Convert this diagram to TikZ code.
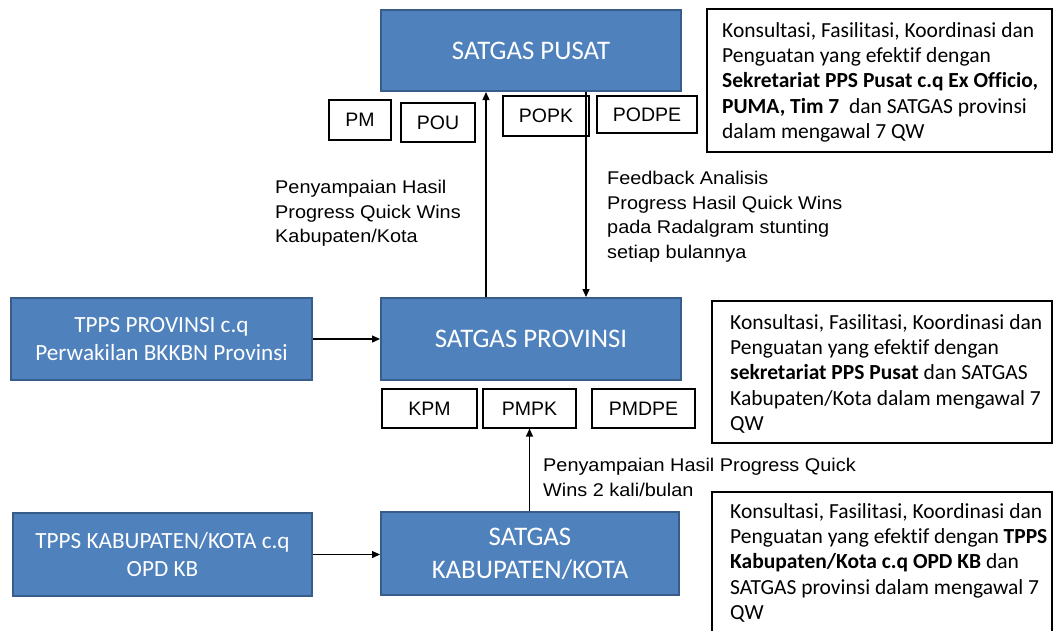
\documentclass[tikz,border=0pt]{standalone}
\usepackage{fontspec}
\setmainfont{Carlito}[Ligatures=NoCommon]
\newfontfamily\labfont[FakeStretch=1.08]{Liberation Sans}
\newfontfamily\boxfont{Liberation Sans}
\usetikzlibrary{arrows.meta}
\definecolor{boxblue}{HTML}{4F81BD}
\definecolor{boxedge}{HTML}{385D8A}
\begin{document}
\begin{tikzpicture}[x=1pt,y=-1pt,
 bluebox/.style={draw=boxedge, line width=2pt, fill=boxblue, text=white, align=center, inner sep=0},
 bigfont/.style={font=\fontsize{26.8}{33}\selectfont},
 midfont/.style={font=\fontsize{23.2}{28}\selectfont},
 smallbox/.style={draw=black, line width=1.2pt, fill=white, font=\boxfont\fontsize{19.5}{22}\selectfont, inner sep=0},
 notebox/.style={draw=black, line width=1.5pt, inner sep=0},
 notetext/.style={anchor=north west, inner sep=0, align=left, font=\fontsize{21.5}{25.3}\selectfont},
 lab/.style={anchor=north west, inner sep=0, align=left, font=\labfont\fontsize{18.4}{24.7}\selectfont},
 conn/.style={line width=1.3pt, -{Triangle[length=8pt,width=7pt]}}
]
\useasboundingbox (0,0) rectangle (1054,630);
\clip (0,0) rectangle (1054,630);

% blue boxes
\node[bluebox, bigfont, minimum width=300pt, minimum height=81pt] (pusat) at (531,50.5) {SATGAS PUSAT};
\node[bluebox, bigfont, minimum width=300pt, minimum height=82pt] (prov) at (531,339) {SATGAS PROVINSI};
\node[bluebox, midfont, minimum width=301pt, minimum height=82pt] (tppsprov) at (161.5,339) {TPPS PROVINSI c.q\\Perwakilan BKKBN Provinsi};
\node[bluebox, midfont, minimum width=299pt, minimum height=83pt] (tppskab) at (162.5,554.5) {TPPS KABUPATEN/KOTA c.q\\OPD KB};
\node[bluebox, bigfont, minimum width=298pt, minimum height=83pt] (kab) at (530,553.5) {SATGAS\\KABUPATEN/KOTA};

% small boxes
\node[smallbox, minimum width=62pt, minimum height=40pt] (pm) at (360,120) {PM};
\node[smallbox, minimum width=74pt, minimum height=39pt] (pou) at (438,122.5) {POU};
\node[smallbox, minimum width=86pt, minimum height=40pt] (popk) at (546,116) {POPK};
\node[smallbox, minimum width=100pt, minimum height=37pt] (podpe) at (647,114.5) {PODPE};
\node[smallbox, minimum width=95pt, minimum height=39pt] (kpm) at (429.5,408.5) {KPM};
\node[smallbox, minimum width=93pt, minimum height=39pt] (pmpk) at (529.5,408.5) {PMPK};
\node[smallbox, minimum width=103pt, minimum height=39pt] (pmdpe) at (643.5,408.5) {PMDPE};

% note boxes
\node[notebox, minimum width=345pt, minimum height=143pt] (r1) at (879.5,80.5) {};
\node[notebox, minimum width=340pt, minimum height=142pt] (r2) at (882,372) {};
\node[notebox, minimum width=340pt, minimum height=168pt] (r3) at (882,576) {};
\node[notetext] (t1) at (722,22) {Konsultasi, Fasilitasi, Koordinasi dan\\Penguatan yang efektif dengan\\\textbf{Sekretariat PPS Pusat c.q Ex Officio,}\\\textbf{PUMA, Tim 7}\ \ dan SATGAS provinsi\\dalam mengawal 7 QW};
\node[notetext] (t2) at (730,314) {Konsultasi, Fasilitasi, Koordinasi dan\\Penguatan yang efektif dengan\\\textbf{sekretariat PPS Pusat} dan SATGAS\\Kabupaten/Kota dalam mengawal 7\\QW};
\node[notetext] (t3) at (730,503) {Konsultasi, Fasilitasi, Koordinasi dan\\Penguatan yang efektif dengan \textbf{TPPS}\\\textbf{Kabupaten/Kota c.q OPD KB} dan\\SATGAS provinsi dalam mengawal 7\\QW};

% labels
\node[lab] (l1) at (275,180) {Penyampaian Hasil\\Progress Quick Wins\\Kabupaten/Kota};
\node[lab] (l2) at (607,171) {Feedback Analisis\\Progress Hasil Quick Wins\\pada Radalgram stunting\\setiap bulannya};
\node[lab] (l3) at (543,458) {Penyampaian Hasil Progress Quick\\Wins 2 kali/bulan};

% connectors
\coordinate (upx) at (486,0);
\coordinate (dnx) at (586,0);
\draw[conn] (prov.north -| upx) -- (pusat.south -| upx);
\draw[conn] (pusat.south -| dnx) -- (prov.north -| dnx);
\draw[conn] (tppsprov.east) -- (prov.west);
\draw[conn] (tppskab.east) -- (tppskab.east -| kab.west);
\draw[conn] (kab.north -| pmpk.south) -- (pmpk.south);
\end{tikzpicture}
\end{document}
